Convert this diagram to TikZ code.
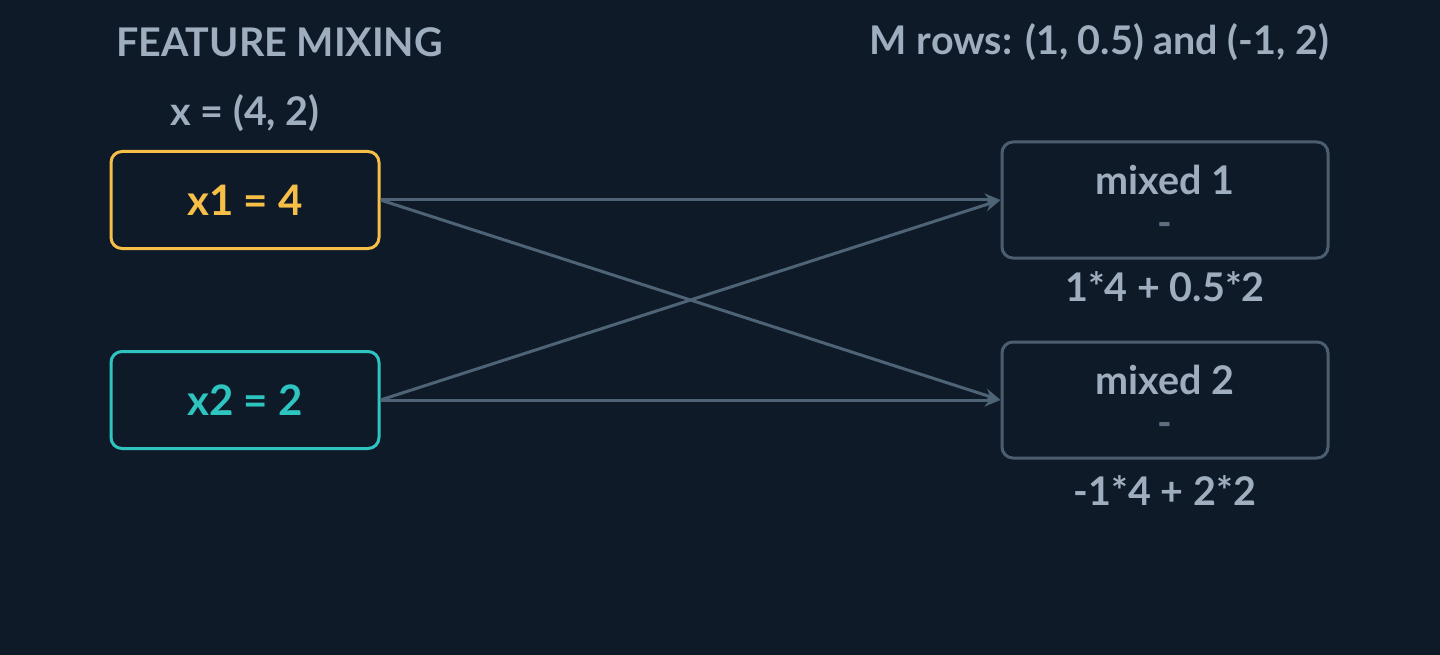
\documentclass[tikz,border=0pt]{standalone}
\usepackage{fontspec}
\setmainfont{Lato}
\usetikzlibrary{arrows.meta}
\definecolor{bg}{HTML}{0F1A29}
\definecolor{txt}{HTML}{9FAEBE}
\definecolor{yel}{HTML}{F5BF48}
\definecolor{teal}{HTML}{2EC4BF}
\definecolor{gbox}{HTML}{4B5E70}
\definecolor{arr}{HTML}{4E6376}
\begin{document}
\begin{tikzpicture}[x=1pt,y=-1pt,
  lab/.style={text=txt,font=\fontsize{39.5}{44}\selectfont\bfseries,inner sep=0},
  inbox/.style={draw,line width=3pt,rounded corners=11pt,minimum width=268pt,minimum height=97pt,font=\fontsize{42}{48}\selectfont\bfseries},
  outbox/.style={draw=gbox,line width=3pt,rounded corners=11pt,minimum width=326pt,minimum height=116pt},
  con/.style={draw=arr,line width=3pt,-{Stealth[length=16pt,width=13pt]}}]
\fill[bg] (0,0) rectangle (1440,655);
\useasboundingbox (0,0) rectangle (1440,655);
\node[lab,anchor=west] (title) at (116,42) {FEATURE MIXING};
\node[lab,anchor=east] (mrows) at (1329,42) {M rows: (1, 0.5) and (-1, 2)};
\node[lab] (xv) at (245,113) {x = (4, 2)};
\node[inbox,draw=yel,text=yel] (x1) at (245,200) {x1 = 4};
\node[inbox,draw=teal,text=teal] (x2) at (245,400) {x2 = 2};
\node[outbox] (m1) at (1165,200) {};
\node[outbox] (m2) at (1165,400) {};
\node[lab] (m1t) at (1165,180) {mixed 1};
\node[lab,text=gbox!80!txt] (m1d) at (1165,230) {-};
\node[lab] (m2t) at (1165,380) {mixed 2};
\node[lab,text=gbox!80!txt] (m2d) at (1165,430) {-};
\node[lab] (f1) at (1165,287) {1*4 + 0.5*2};
\node[lab] (f2) at (1165,491) {-1*4 + 2*2};
\draw[con] (x1.east) -- (m1.west);
\draw[con] (x1.east) -- (m2.west);
\draw[con] (x2.east) -- (m1.west);
\draw[con] (x2.east) -- (m2.west);
\end{tikzpicture}
\end{document}
